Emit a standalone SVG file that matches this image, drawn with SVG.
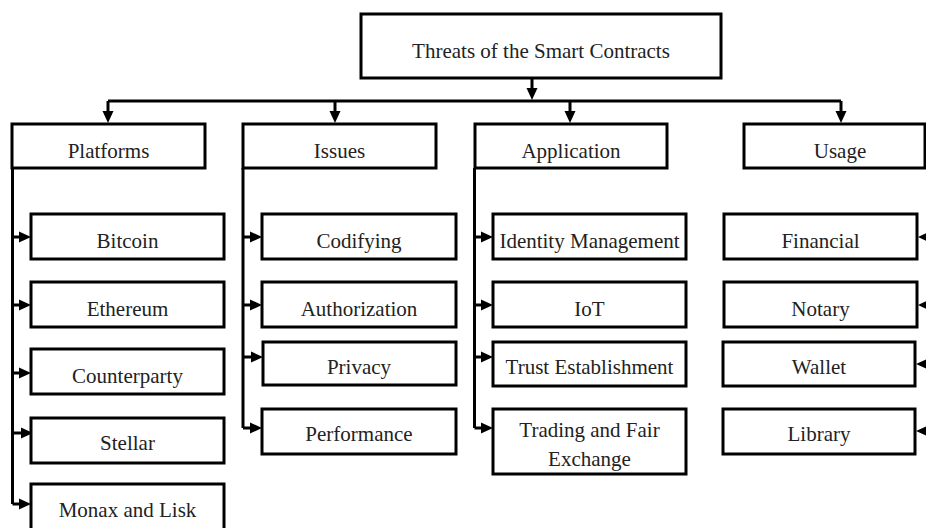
<svg xmlns="http://www.w3.org/2000/svg" width="926" height="528" viewBox="0 0 926 528">
<style>
rect.b{fill:#fff;stroke:#000;stroke-width:3}
text{font-family:"Liberation Serif","Times New Roman",serif;font-size:21px;fill:#222;text-anchor:middle}
.c path{fill:none;stroke:#000;stroke-width:3}
.c path.a{marker-end:url(#ah)}
</style>
<defs>
<marker id="ah" markerUnits="userSpaceOnUse" markerWidth="12" markerHeight="12" refX="6" refY="6" orient="auto">
<path d="M0,0.5 L12,6 L0,11.5 z" fill="#000"/>
</marker>
</defs>
<g class="c" id="connectors">
<path class="a" d="M532,78 V94"/>
<path d="M108,101 H841"/>
<path class="a" d="M108,101 V117"/>
<path class="a" d="M335,101 V117"/>
<path class="a" d="M570,101 V117"/>
<path class="a" d="M841,101 V117"/>
<path d="M12.5,168 V504"/>
<path class="a" d="M12.5,237 H25"/>
<path class="a" d="M12.5,305 H25"/>
<path class="a" d="M12.5,373 H25"/>
<path class="a" d="M12.5,433 H27"/>
<path class="a" d="M12.5,504 H25"/>
<path d="M243,168 V428"/>
<path class="a" d="M243,237 H256"/>
<path class="a" d="M243,305 H256"/>
<path class="a" d="M243,357 H257"/>
<path class="a" d="M243,428 H256"/>
<path d="M474.5,168 V428"/>
<path class="a" d="M474.5,237 H487"/>
<path class="a" d="M474.5,305 H487"/>
<path class="a" d="M474.5,357 H487"/>
<path class="a" d="M474.5,428 H487"/>
<path class="a" d="M940,237 H924"/>
<path class="a" d="M940,305 H924"/>
<path class="a" d="M940,364 H922"/>
<path class="a" d="M940,431 H922"/>
</g>
<g id="root"><rect class="b" x="361" y="14" width="360" height="64"/><text x="541" y="58">Threats of the Smart Contracts</text></g>
<g id="platforms"><rect class="b" x="12" y="124" width="193" height="44"/><text x="108.5" y="158">Platforms</text></g>
<g id="issues"><rect class="b" x="243" y="124" width="193" height="44"/><text x="339.5" y="158">Issues</text></g>
<g id="application"><rect class="b" x="475" y="124" width="192" height="44"/><text x="571" y="158">Application</text></g>
<g id="usage"><rect class="b" x="744" y="124" width="181" height="44"/><text x="840" y="158">Usage</text></g>
<g id="bitcoin"><rect class="b" x="31" y="214" width="193" height="45"/><text x="127.5" y="248">Bitcoin</text></g>
<g id="ethereum"><rect class="b" x="31" y="282" width="193" height="45"/><text x="127.5" y="316">Ethereum</text></g>
<g id="counterparty"><rect class="b" x="31" y="349" width="193" height="45"/><text x="127.5" y="383">Counterparty</text></g>
<g id="stellar"><rect class="b" x="31" y="418" width="193" height="45"/><text x="127.5" y="450">Stellar</text></g>
<g id="monax"><rect class="b" x="31" y="484" width="193" height="60"/><text x="127.5" y="517">Monax and Lisk</text></g>
<g id="codifying"><rect class="b" x="262" y="214" width="194" height="45"/><text x="359" y="248">Codifying</text></g>
<g id="authorization"><rect class="b" x="262" y="282" width="194" height="45"/><text x="359" y="316">Authorization</text></g>
<g id="privacy"><rect class="b" x="263" y="342" width="193" height="43"/><text x="359" y="374">Privacy</text></g>
<g id="performance"><rect class="b" x="262" y="409" width="194" height="45"/><text x="359" y="441">Performance</text></g>
<g id="identity"><rect class="b" x="493" y="214" width="193" height="45"/><text x="589.5" y="248">Identity Management</text></g>
<g id="iot"><rect class="b" x="493" y="282" width="193" height="45"/><text x="589.5" y="316">IoT</text></g>
<g id="trust"><rect class="b" x="493" y="342" width="193" height="44"/><text x="589.5" y="374">Trust Establishment</text></g>
<g id="trading"><rect class="b" x="493" y="409" width="193" height="65"/><text x="589.5" y="437">Trading and Fair</text><text x="589.5" y="466">Exchange</text></g>
<g id="financial"><rect class="b" x="724" y="214" width="193" height="45"/><text x="820.5" y="248">Financial</text></g>
<g id="notary"><rect class="b" x="724" y="282" width="193" height="45"/><text x="820.5" y="316">Notary</text></g>
<g id="wallet"><rect class="b" x="723" y="342" width="192" height="44"/><text x="819" y="374">Wallet</text></g>
<g id="library"><rect class="b" x="723" y="409" width="192" height="45"/><text x="819" y="441">Library</text></g>
</svg>
